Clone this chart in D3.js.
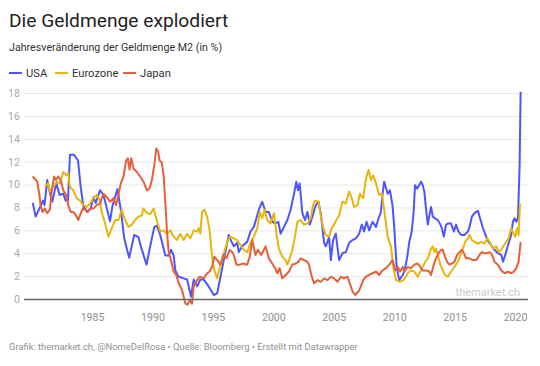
<!DOCTYPE html>
<html><head><meta charset="utf-8">
<script src="https://cdn.jsdelivr.net/npm/d3@7"></script>
<style>
html,body{margin:0;padding:0;background:#fff;}
svg{display:block;font-family:Roboto,"Noto Sans",sans-serif;}
</style></head><body>
<svg id="c" width="540" height="366"></svg>
<script>
const seriesNames = ["USA", "Eurozone", "Japan"];
const seriesColors = ["#4d55ff", "#e9b50a", "#e5603a"];
const yTicks = [0, 2, 4, 6, 8, 10, 12, 14, 16, 18];
const xTicks = [1985, 1990, 1995, 2000, 2005, 2010, 2015, 2020];

const usa = [[1980.10,8.4],[1980.33,7.2],[1980.74,8.1],[1980.93,8.6],[1981.07,8.2],[1981.29,10.4],[1981.51,9.3],[1981.71,8.5],[1982.04,10.1],[1982.32,9.1],[1982.62,9.2],[1982.82,8.6],[1983.01,8.6],[1983.17,12.6],[1983.51,12.6],[1983.84,12.1],[1984.06,9.8],[1984.28,8.1],[1984.61,7.6],[1984.89,7.9],[1985.11,8.9],[1985.31,8.4],[1985.66,9.5],[1985.94,9.1],[1986.49,6.8],[1986.68,8.1],[1987.10,9.6],[1987.38,7.8],[1987.66,5.3],[1988.07,3.6],[1988.49,5.6],[1988.84,5.4],[1989.04,4.6],[1989.51,3.0],[1989.81,4.6],[1990.15,6.3],[1990.37,6.4],[1990.64,5.6],[1990.87,4.6],[1991.06,3.8],[1991.33,3.8],[1991.53,4.3],[1991.75,3.8],[1991.89,2.5],[1992.16,1.95],[1992.58,1.8],[1992.86,1.7],[1993.19,0.2],[1993.41,1.7],[1993.69,1.1],[1993.96,1.7],[1994.24,1.7],[1994.65,1.1],[1995.07,0.35],[1995.35,0.5],[1995.62,1.9],[1995.90,3.4],[1996.31,5.6],[1996.45,5.2],[1996.73,4.6],[1997.01,4.9],[1997.14,4.1],[1997.42,4.6],[1997.84,5.0],[1998.11,5.9],[1998.39,6.3],[1998.80,7.8],[1999.08,8.5],[1999.36,7.6],[1999.63,7.6],[1999.91,6.75],[2000.19,6.6],[2000.41,6.75],[2000.60,5.7],[2000.88,6.3],[2001.16,6.9],[2001.43,7.8],[2001.71,9.2],[2001.90,10.25],[2002.04,9.5],[2002.18,10.1],[2002.40,7.5],[2002.62,6.9],[2002.82,7.6],[2003.01,6.5],[2003.23,7.2],[2003.51,8.2],[2003.73,8.5],[2003.92,7.5],[2004.20,4.9],[2004.34,4.6],[2004.61,5.4],[2004.76,3.4],[2004.94,5.15],[2005.17,5.7],[2005.44,3.4],[2005.72,4.0],[2006.00,4.1],[2006.27,4.9],[2006.55,5.15],[2006.83,5.3],[2007.10,5.7],[2007.32,6.5],[2007.51,5.9],[2007.71,6.75],[2007.93,6.0],[2008.21,6.75],[2008.49,6.3],[2008.71,7.05],[2008.90,7.6],[2009.04,9.2],[2009.17,10.25],[2009.46,9.2],[2009.65,9.5],[2009.87,8.1],[2010.00,6.3],[2010.20,2.8],[2010.42,1.65],[2010.70,2.1],[2010.83,2.4],[2011.06,3.55],[2011.25,5.0],[2011.45,5.9],[2011.61,7.6],[2011.72,9.95],[2011.89,9.65],[2012.08,9.95],[2012.22,10.25],[2012.36,9.95],[2012.49,9.4],[2012.63,7.9],[2012.78,6.5],[2012.91,7.3],[2013.05,8.05],[2013.19,7.2],[2013.38,7.05],[2013.60,6.9],[2013.82,6.5],[2013.94,6.2],[2014.10,5.45],[2014.29,6.5],[2014.48,6.6],[2014.71,6.6],[2014.93,5.9],[2015.12,6.5],[2015.31,5.9],[2015.54,5.6],[2015.81,5.6],[2016.10,5.9],[2016.23,6.3],[2016.43,7.2],[2016.64,7.5],[2016.93,7.7],[2017.06,7.2],[2017.34,6.2],[2017.61,5.45],[2017.80,5.0],[2018.03,4.7],[2018.30,4.3],[2018.58,4.0],[2018.86,3.85],[2019.00,3.25],[2019.19,3.85],[2019.41,4.7],[2019.68,5.6],[2019.82,6.75],[2019.96,7.05],[2020.10,6.75],[2020.24,7.05],[2020.37,11.4],[2020.46,18.1]];

const eurozone = [[1981.10,9.8],[1981.37,10.1],[1981.51,9.4],[1981.79,9.8],[1982.07,10.25],[1982.34,10.1],[1982.62,11.1],[1982.90,10.8],[1983.03,11.0],[1983.17,9.8],[1983.44,9.5],[1983.73,8.8],[1984.00,8.6],[1984.28,8.2],[1984.56,8.05],[1984.83,8.35],[1985.11,8.8],[1985.39,9.1],[1985.66,8.6],[1985.80,7.6],[1986.08,6.6],[1986.35,5.45],[1986.63,6.2],[1986.91,6.9],[1987.18,6.9],[1987.46,7.8],[1987.74,6.9],[1988.01,6.3],[1988.29,6.5],[1988.56,6.9],[1988.84,7.2],[1989.12,7.3],[1989.25,7.9],[1989.54,7.5],[1989.81,7.4],[1990.09,7.9],[1990.37,6.8],[1990.64,5.9],[1990.92,6.0],[1991.20,5.7],[1991.47,6.0],[1991.75,5.45],[1992.03,5.15],[1992.30,5.7],[1992.58,5.15],[1992.86,5.7],[1993.13,5.3],[1993.41,6.0],[1993.69,5.9],[1993.82,6.2],[1993.96,5.7],[1994.10,7.6],[1994.29,7.8],[1994.52,7.2],[1994.73,6.0],[1994.93,3.7],[1995.12,2.5],[1995.35,1.8],[1995.48,2.4],[1995.68,3.1],[1995.90,4.0],[1996.23,5.15],[1996.45,5.45],[1996.73,5.3],[1997.01,5.15],[1997.28,4.7],[1997.56,4.3],[1997.84,4.1],[1998.11,4.9],[1998.39,5.45],[1998.67,6.2],[1998.88,7.6],[1999.08,7.05],[1999.27,7.8],[1999.50,6.9],[1999.77,6.6],[2000.05,7.5],[2000.27,5.6],[2000.46,4.4],[2000.74,3.7],[2001.02,3.4],[2001.16,3.0],[2001.35,3.55],[2001.57,4.3],[2001.79,5.45],[2001.99,6.75],[2002.26,6.9],[2002.54,6.5],[2002.82,6.6],[2003.09,7.05],[2003.28,8.2],[2003.45,8.6],[2003.73,8.5],[2003.92,7.3],[2004.11,6.3],[2004.34,5.6],[2004.61,5.45],[2004.83,6.2],[2005.02,6.5],[2005.22,6.9],[2005.44,7.3],[2005.72,8.5],[2006.00,8.35],[2006.27,9.4],[2006.49,8.8],[2006.68,8.05],[2006.97,8.2],[2007.16,9.2],[2007.43,8.8],[2007.66,10.5],[2007.88,11.3],[2008.07,10.4],[2008.26,10.8],[2008.49,10.1],[2008.76,9.1],[2008.98,9.2],[2009.17,7.8],[2009.46,5.45],[2009.73,4.6],[2009.92,2.8],[2010.15,1.65],[2010.48,1.5],[2010.75,1.65],[2010.98,1.95],[2011.11,2.25],[2011.39,2.5],[2011.66,2.4],[2011.94,1.95],[2012.16,2.4],[2012.36,2.8],[2012.55,3.25],[2012.78,3.55],[2013.05,4.4],[2013.19,4.6],[2013.32,4.1],[2013.46,4.4],[2013.60,3.85],[2013.82,3.0],[2014.02,2.5],[2014.21,2.1],[2014.43,1.95],[2014.71,2.4],[2014.98,2.8],[2015.26,3.25],[2015.48,3.85],[2015.68,4.4],[2015.87,5.0],[2016.10,5.3],[2016.23,5.6],[2016.43,5.15],[2016.64,5.0],[2016.93,4.85],[2017.20,5.0],[2017.47,4.85],[2017.70,5.3],[2017.89,5.0],[2018.17,4.4],[2018.44,4.6],[2018.64,4.1],[2018.86,4.3],[2019.08,4.7],[2019.27,5.0],[2019.46,5.3],[2019.68,6.2],[2019.88,5.7],[2020.02,5.45],[2020.19,6.2],[2020.29,5.6],[2020.41,8.35]];

const japan = [[1980.08,10.7],[1980.27,10.5],[1980.46,10.25],[1980.63,9.2],[1980.74,8.2],[1980.91,7.6],[1981.10,7.9],[1981.29,7.5],[1981.51,7.8],[1981.66,9.4],[1981.85,10.7],[1982.01,10.4],[1982.20,10.7],[1982.40,10.4],[1982.62,9.5],[1982.84,9.1],[1983.03,8.2],[1983.23,7.6],[1983.45,7.6],[1983.67,7.3],[1983.86,6.9],[1984.00,7.3],[1984.23,7.9],[1984.42,7.8],[1984.61,7.6],[1984.83,7.9],[1985.11,7.9],[1985.39,8.2],[1985.66,8.35],[1985.94,9.2],[1986.22,8.9],[1986.49,8.5],[1986.77,8.8],[1986.99,8.2],[1987.18,9.1],[1987.38,10.1],[1987.60,10.7],[1987.82,12.1],[1987.96,12.3],[1988.10,11.3],[1988.24,12.3],[1988.43,11.4],[1988.71,11.1],[1988.98,10.7],[1989.26,10.25],[1989.54,9.5],[1989.76,9.65],[1989.95,10.4],[1990.15,11.7],[1990.31,13.15],[1990.46,12.9],[1990.59,12.1],[1990.78,11.9],[1990.92,10.8],[1991.06,8.5],[1991.20,5.9],[1991.33,4.2],[1991.53,3.4],[1991.75,2.4],[1991.97,2.1],[1992.16,1.4],[1992.44,0.8],[1992.72,-0.4],[1992.91,-0.5],[1993.07,-0.1],[1993.27,-0.4],[1993.41,1.1],[1993.69,1.65],[1993.90,1.95],[1994.24,1.8],[1994.52,2.25],[1994.73,2.4],[1994.93,2.8],[1995.12,3.7],[1995.35,3.4],[1995.62,3.0],[1995.85,3.85],[1996.12,3.55],[1996.39,4.3],[1996.68,4.0],[1996.95,3.0],[1997.22,3.0],[1997.51,3.1],[1997.84,3.0],[1998.05,3.7],[1998.25,5.15],[1998.53,3.85],[1998.72,4.3],[1999.00,3.85],[1999.36,4.6],[1999.63,3.55],[1999.91,3.1],[2000.19,2.6],[2000.33,2.25],[2000.52,2.7],[2000.74,1.8],[2001.02,2.1],[2001.29,2.4],[2001.57,3.0],[2001.85,3.1],[2002.07,3.25],[2002.26,3.55],[2002.54,3.4],[2002.82,3.25],[2002.95,3.0],[2003.18,1.95],[2003.37,1.37],[2003.65,1.65],[2003.92,1.5],[2004.20,1.8],[2004.48,1.65],[2004.76,1.95],[2005.02,1.8],[2005.31,1.5],[2005.58,1.95],[2005.85,1.8],[2006.14,1.95],[2006.33,1.37],[2006.55,0.65],[2006.77,0.35],[2007.05,0.65],[2007.24,1.1],[2007.43,1.65],[2007.66,1.95],[2007.93,2.1],[2008.21,2.25],[2008.49,2.4],[2008.76,2.1],[2009.04,2.5],[2009.32,2.7],[2009.59,3.0],[2009.87,3.4],[2010.09,2.5],[2010.29,2.8],[2010.48,2.4],[2010.70,2.8],[2010.83,2.4],[2011.11,2.8],[2011.39,2.7],[2011.66,3.0],[2011.94,3.1],[2012.16,2.8],[2012.36,2.5],[2012.63,2.5],[2012.91,2.4],[2013.05,2.1],[2013.27,3.0],[2013.46,3.55],[2013.66,4.0],[2013.88,4.3],[2014.02,4.3],[2014.15,3.85],[2014.38,3.25],[2014.57,3.0],[2014.77,3.1],[2014.98,3.25],[2015.21,3.85],[2015.40,4.1],[2015.60,4.3],[2015.77,4.0],[2015.95,3.55],[2016.23,3.55],[2016.51,3.4],[2016.78,3.4],[2017.06,3.85],[2017.26,4.1],[2017.47,4.0],[2017.70,4.0],[2017.89,4.1],[2018.09,3.85],[2018.30,3.25],[2018.58,3.0],[2018.86,2.5],[2019.13,2.25],[2019.41,2.4],[2019.68,2.25],[2019.91,2.4],[2020.10,2.7],[2020.29,3.25],[2020.46,5.0]];

const title = "Die Geldmenge explodiert";
const subtitle = "Jahresveränderung der Geldmenge M2 (in %)";
const footer = "Grafik: themarket.ch, @NomeDelRosa \u2022 Quelle: Bloomberg \u2022 Erstellt mit Datawrapper";
const watermark = "themarket.ch";

const svg = d3.select("#c");
const L = 24, R = 528, T = 93, B = 299;

const x = d3.scaleLinear().domain([1979.37, 2021.07]).range([L, R]);
const y = d3.scaleLinear().domain([0, 18]).range([B, T]);

svg.append("text").attr("x", 9).attr("y", 27).attr("font-size", 19.2).attr("fill", "#222").text(title);
svg.append("text").attr("x", 9).attr("y", 51).attr("font-size", 10.7).attr("fill", "#333").text(subtitle);

// legend
const legendX = [9, 55, 123];
const lg = svg.append("g");
seriesNames.forEach((n, i) => {
  const lx = legendX[i];
  lg.append("line").attr("x1", lx).attr("x2", lx + 13).attr("y1", 73).attr("y2", 73)
    .attr("stroke", seriesColors[i]).attr("stroke-width", 2);
  lg.append("text").attr("x", lx + 17).attr("y", 77).attr("font-size", 11.2).attr("fill", "#333").text(n);
});

// y grid + labels
const yAxis = d3.axisLeft(y).tickValues(yTicks).tickSize(-(R - L)).tickFormat(d3.format("d"));
const gy = svg.append("g").attr("transform", `translate(${L},0)`).call(yAxis);
gy.select(".domain").remove();
gy.selectAll(".tick line").attr("stroke", d => d === 0 ? "none" : "#e8e8e8").attr("stroke-width", 1);
gy.selectAll(".tick text").attr("x", -4).attr("fill", "#aaaaaa").attr("font-size", 10.6)
  .attr("font-family", "Roboto, sans-serif");

// watermark
svg.append("text").attr("x", 520).attr("y", 296).attr("text-anchor", "end").attr("font-size", 11)
  .attr("fill", "#cccccc").text(watermark);

// lines
const line = d3.line().x(d => x(d[0])).y(d => y(d[1]));
[usa, eurozone, japan].forEach((s, i) => {
  svg.append("path").datum(s).attr("d", line).attr("fill", "none")
    .attr("stroke", seriesColors[i]).attr("stroke-width", 2).attr("stroke-linejoin", "round");
});

// x axis
const xAxis = d3.axisBottom(x).tickValues(xTicks).tickSize(0).tickPadding(14).tickFormat(d3.format("d"));
const gx = svg.append("g").attr("transform", `translate(0,${B})`).call(xAxis);
gx.select(".domain").remove();
gx.selectAll(".tick text").attr("fill", "#8f8f8f").attr("font-size", 10.6).attr("font-family", "Roboto, sans-serif");
svg.append("line").attr("x1", L).attr("x2", R).attr("y1", B + 0.5).attr("y2", B + 0.5)
  .attr("stroke", "#666").attr("stroke-width", 1.3);

// footer
svg.append("text").attr("x", 9).attr("y", 350).attr("font-size", 9.4).attr("fill", "#8f8f8f").text(footer);
</script>
</body></html>
